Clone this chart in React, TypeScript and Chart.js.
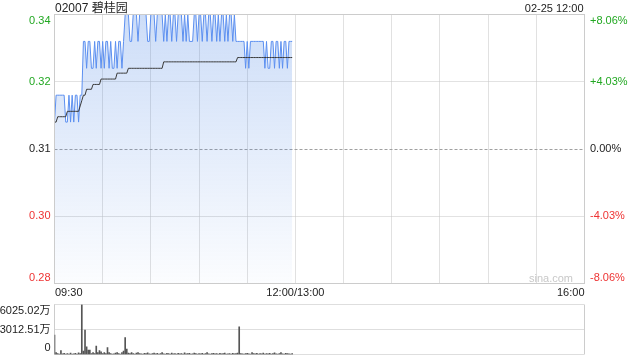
import { useEffect, useRef } from 'react';
import { Chart, registerables } from 'chart.js';
Chart.register(...registerables);

const FONT = 'Arial, "Liberation Sans", "Noto Sans CJK SC", sans-serif';
const GREEN = '#22a822';
const RED = '#ee3333';
const TEXT = '#222';

const title = '02007 碧桂园';
const stamp = '02-25 12:00';
const timeLabels = ['09:30', '12:00/13:00', '16:00'];
const timeLabelMinutes = [0, 150, 330];
const totalMinutes = 330;

const prevClose = 0.31;
const priceTicks = [0.335, 0.3225, 0.31, 0.2975, 0.285];
const priceTickLabels = ['0.34', '0.32', '0.31', '0.30', '0.28'];
const pctTickLabels = ['+8.06%', '+4.03%', '0.00%', '-4.03%', '-8.06%'];

const prices = [
  0.315, 0.320, 0.320, 0.320, 0.320, 0.320, 0.320, 0.315, 0.315, 0.320,
  0.315, 0.320, 0.315, 0.320, 0.320, 0.315, 0.320, 0.320, 0.330, 0.330,
  0.325, 0.330, 0.330, 0.325, 0.325, 0.330, 0.325, 0.330, 0.330, 0.325,
  0.330, 0.325, 0.330, 0.330, 0.325, 0.330, 0.325, 0.325, 0.330, 0.325,
  0.330, 0.330, 0.325, 0.330, 0.335, 0.335, 0.335, 0.330, 0.330, 0.335,
  0.335, 0.335, 0.330, 0.335, 0.335, 0.335, 0.335, 0.335, 0.330, 0.330,
  0.335, 0.335, 0.335, 0.330, 0.335, 0.335, 0.335, 0.335, 0.330, 0.335,
  0.330, 0.335, 0.335, 0.330, 0.335, 0.335, 0.330, 0.335, 0.335, 0.335,
  0.330, 0.335, 0.330, 0.335, 0.330, 0.330, 0.330, 0.335, 0.335, 0.330,
  0.335, 0.335, 0.330, 0.335, 0.335, 0.330, 0.335, 0.335, 0.330, 0.335,
  0.335, 0.330, 0.335, 0.330, 0.335, 0.335, 0.330, 0.335, 0.330, 0.335,
  0.335, 0.330, 0.335, 0.330, 0.330, 0.330, 0.330, 0.330, 0.330, 0.325,
  0.330, 0.325, 0.330, 0.330, 0.330, 0.330, 0.330, 0.330, 0.330, 0.330,
  0.330, 0.325, 0.330, 0.325, 0.325, 0.330, 0.330, 0.325, 0.330, 0.330,
  0.325, 0.330, 0.325, 0.330, 0.330, 0.325, 0.330, 0.330, 0.330,
];

const avgPrices = [
  0.3150, 0.3150, 0.3160, 0.3160, 0.3160, 0.3160, 0.3160, 0.3160, 0.3170, 0.3170,
  0.3170, 0.3170, 0.3170, 0.3170, 0.3170, 0.3170, 0.3180, 0.3190, 0.3200, 0.3200,
  0.3211, 0.3211, 0.3211, 0.3211, 0.3220, 0.3220, 0.3220, 0.3220, 0.3220, 0.3230,
  0.3230, 0.3230, 0.3230, 0.3230, 0.3230, 0.3230, 0.3230, 0.3230, 0.3230, 0.3241,
  0.3241, 0.3241, 0.3241, 0.3241, 0.3241, 0.3241, 0.3250, 0.3250, 0.3250, 0.3250,
  0.3250, 0.3250, 0.3250, 0.3250, 0.3250, 0.3250, 0.3250, 0.3250, 0.3250, 0.3250,
  0.3250, 0.3250, 0.3250, 0.3250, 0.3250, 0.3250, 0.3250, 0.3250, 0.3262, 0.3262,
  0.3262, 0.3262, 0.3262, 0.3262, 0.3262, 0.3262, 0.3262, 0.3262, 0.3262, 0.3262,
  0.3262, 0.3262, 0.3262, 0.3262, 0.3262, 0.3262, 0.3262, 0.3262, 0.3262, 0.3262,
  0.3262, 0.3262, 0.3262, 0.3262, 0.3262, 0.3262, 0.3262, 0.3262, 0.3262, 0.3262,
  0.3262, 0.3262, 0.3262, 0.3262, 0.3262, 0.3262, 0.3262, 0.3262, 0.3262, 0.3262,
  0.3262, 0.3262, 0.3262, 0.3262, 0.3270, 0.3270, 0.3270, 0.3270, 0.3270, 0.3270,
  0.3270, 0.3270, 0.3270, 0.3270, 0.3270, 0.3270, 0.3270, 0.3270, 0.3270, 0.3270,
  0.3270, 0.3270, 0.3270, 0.3270, 0.3270, 0.3270, 0.3270, 0.3270, 0.3270, 0.3270,
  0.3270, 0.3270, 0.3270, 0.3270, 0.3270, 0.3270, 0.3270, 0.3270, 0.3270,
];

// volume in 万
const volumes = [
  2326, 240, 120, 60, 480, 90, 150, 60, 120, 40,
  180, 60, 90, 150, 60, 200, 120, 6025.02, 400, 2930,
  925, 520, 520, 120, 240, 120, 1000, 240, 480, 320,
  120, 240, 120, 845, 240, 120, 60, 90, 180, 240,
  120, 60, 240, 400, 2050, 640, 180, 120, 240, 120,
  60, 180, 240, 120, 90, 60, 150, 120, 200, 90,
  60, 120, 180, 90, 150, 60, 120, 240, 90, 60,
  150, 120, 60, 180, 90, 120, 60, 150, 90, 120,
  60, 200, 90, 120, 150, 60, 90, 180, 120, 60,
  120, 90, 150, 60, 120, 240, 90, 60, 120, 150,
  90, 120, 60, 150, 90, 120, 180, 60, 90, 120,
  60, 150, 90, 120, 180, 3340, 120, 90, 60, 120,
  150, 90, 60, 240, 120, 90, 150, 60, 120, 90,
  180, 60, 120, 90, 150, 60, 120, 200, 90, 60,
  120, 240, 90, 60, 150, 120, 90, 60, 120,
];
const volTicks = [6025.02, 3012.51, 0];
const volTickLabels = ['6025.02万', '3012.51万', '0'];

const pricePlugin = {
  id: 'priceDeco',
  beforeDatasetsDraw(chart: any) {
    const { ctx, chartArea: a, scales } = chart;
    const x = scales.x, y = scales.y;
    ctx.save();
    ctx.lineWidth = 1;
    ctx.strokeStyle = '#c4c4c4';
    ctx.setLineDash([1, 1]);
    for (let m = 30; m < totalMinutes; m += 30) {
      const px = Math.round(x.getPixelForValue(m) - 0.5) + 0.5;
      ctx.beginPath(); ctx.moveTo(px, a.top); ctx.lineTo(px, a.bottom); ctx.stroke();
    }
    priceTicks.forEach((v, i) => {
      if (i === 0 || i === priceTicks.length - 1) return;
      const py = Math.round(y.getPixelForValue(v) - 0.5) + 0.5;
      if (v === prevClose) { ctx.setLineDash([3, 2]); ctx.strokeStyle = '#a0a0a0'; }
      else { ctx.setLineDash([1, 1]); ctx.strokeStyle = '#c4c4c4'; }
      ctx.beginPath(); ctx.moveTo(a.left, py); ctx.lineTo(a.right, py); ctx.stroke();
    });
    ctx.restore();
  },
  afterDatasetsDraw(chart: any) {
    const { ctx, chartArea: a, scales } = chart;
    const x = scales.x, y = scales.y;
    ctx.save();
    ctx.setLineDash([]);
    ctx.strokeStyle = '#cccccc';
    ctx.lineWidth = 1;
    ctx.strokeRect(a.left, a.top, a.right - a.left, a.bottom - a.top);
    ctx.font = '11px ' + FONT;
    ctx.textBaseline = 'middle';
    priceTicks.forEach((v, i) => {
      const py = Math.min(Math.max(y.getPixelForValue(v), a.top + 6), a.bottom - 6);
      const col = i < 2 ? GREEN : i === 2 ? TEXT : RED;
      ctx.fillStyle = col;
      ctx.textAlign = 'right';
      ctx.fillText(priceTickLabels[i], a.left - 4, py);
      ctx.textAlign = 'left';
      ctx.fillText(pctTickLabels[i], a.right + 5.5, py);
    });
    ctx.textBaseline = 'alphabetic';
    ctx.fillStyle = TEXT;
    timeLabels.forEach((t, i) => {
      const m = timeLabelMinutes[i];
      ctx.textAlign = i === 0 ? 'left' : i === timeLabels.length - 1 ? 'right' : 'center';
      ctx.fillText(t, x.getPixelForValue(m) + (i === 0 ? 0.5 : 0), a.bottom + 12.5);
    });
    ctx.font = '12px ' + FONT;
    ctx.textAlign = 'left';
    ctx.fillText(title, a.left + 0.5, 11.5);
    ctx.font = '11px ' + FONT;
    ctx.textAlign = 'right';
    ctx.fillText(stamp, a.right - 1, 12);
    ctx.fillStyle = '#c8c8c8';
    ctx.fillText('sina.com', a.right - 11.5, a.bottom - 1.5);
    ctx.restore();
  },
};

const volPlugin = {
  id: 'volDeco',
  beforeDatasetsDraw(chart: any) {
    const { ctx, chartArea: a, scales } = chart;
    const y = scales.y;
    ctx.save();
    ctx.lineWidth = 1;
    ctx.strokeStyle = '#bdbdbd';
    ctx.setLineDash([1, 1]);
    volTicks.forEach((v) => {
      const py = Math.round(y.getPixelForValue(v) - 0.5) + 0.5;
      ctx.beginPath(); ctx.moveTo(a.left, py); ctx.lineTo(a.right, py); ctx.stroke();
    });
    ctx.setLineDash([]);
    ctx.strokeStyle = '#cccccc';
    ctx.beginPath();
    ctx.moveTo(a.left, a.top); ctx.lineTo(a.left, a.bottom);
    ctx.moveTo(a.right, a.top); ctx.lineTo(a.right, a.bottom);
    ctx.stroke();
    ctx.restore();
  },
  afterDatasetsDraw(chart: any) {
    const { ctx, chartArea: a, scales } = chart;
    const y = scales.y;
    ctx.save();
    ctx.font = '11px ' + FONT;
    ctx.textBaseline = 'middle';
    ctx.textAlign = 'right';
    ctx.fillStyle = TEXT;
    volTicks.forEach((v, i) => {
      const py = Math.min(Math.max(y.getPixelForValue(v), a.top + 6.5), a.bottom - 6.5);
      ctx.fillText(volTickLabels[i], a.left - 4, py);
    });
    ctx.restore();
  },
};

export default function App() {
  const priceRef = useRef<HTMLCanvasElement>(null);
  const volRef = useRef<HTMLCanvasElement>(null);

  useEffect(() => {
    const pc = new Chart(priceRef.current as HTMLCanvasElement, {
      type: 'line',
      data: {
        datasets: [
          {
            data: avgPrices.map((v, i) => ({ x: i, y: v })),
            borderColor: '#3a3a3a',
            borderWidth: 1,
            pointRadius: 0,
            fill: false,
            tension: 0,
          },
          {
            data: prices.map((v, i) => ({ x: i, y: v })),
            borderColor: '#5b8ff0',
            borderWidth: 1,
            pointRadius: 0,
            tension: 0,
            fill: 'start',
            clip: 3,
            backgroundColor: (c: any) => {
              const area = c.chart.chartArea;
              if (!area) return 'rgba(70,130,228,0.15)';
              const g = c.chart.ctx.createLinearGradient(0, area.top, 0, area.bottom);
              g.addColorStop(0, 'rgba(70,130,228,0.27)');
              g.addColorStop(1, 'rgba(70,130,228,0.02)');
              return g;
            },
          },
        ],
      },
      options: {
        animation: false,
        responsive: false,
        events: [],
        layout: { padding: { left: 54.5, right: 55.5, top: 14.5, bottom: 16.5 } },
        scales: {
          x: { type: 'linear', min: 0, max: totalMinutes, display: false },
          y: { type: 'linear', min: priceTicks[priceTicks.length - 1], max: priceTicks[0], display: false },
        },
        plugins: { legend: { display: false }, tooltip: { enabled: false } },
      },
      plugins: [pricePlugin],
    } as any);

    const vc = new Chart(volRef.current as HTMLCanvasElement, {
      type: 'bar',
      data: {
        datasets: [
          {
            data: volumes.map((v, i) => ({ x: i, y: v })),
            backgroundColor: '#555555',
            barThickness: 1,
          },
        ],
      },
      options: {
        animation: false,
        responsive: false,
        events: [],
        layout: { padding: { left: 54.5, right: 55.5, top: 6.5, bottom: 5.5 } },
        scales: {
          x: { type: 'linear', min: 0, max: totalMinutes, display: false, offset: false },
          y: { type: 'linear', min: 0, max: volTicks[0], display: false },
        },
        plugins: { legend: { display: false }, tooltip: { enabled: false } },
      },
      plugins: [volPlugin],
    } as any);

    return () => {
      pc.destroy();
      vc.destroy();
    };
  }, []);

  return (
    <div style={{ position: 'fixed', left: 0, top: 0, width: 640, height: 360, background: '#fff' }}>
      <canvas ref={priceRef} width={640} height={300} style={{ position: 'absolute', left: 0, top: 0, display: 'block' }} />
      <canvas ref={volRef} width={640} height={62} style={{ position: 'absolute', left: 0, top: 298, display: 'block' }} />
    </div>
  );
}
